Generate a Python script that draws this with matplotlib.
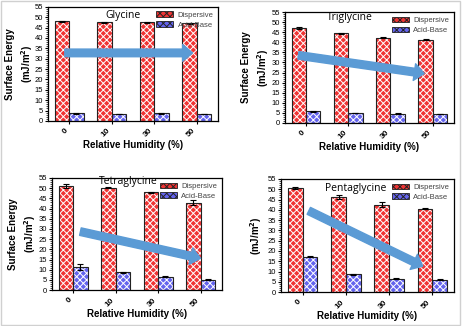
import numpy as np
import matplotlib
matplotlib.use('Agg')
import matplotlib.pyplot as plt
from matplotlib.ticker import MultipleLocator
from matplotlib.patches import Rectangle

plt.rcParams['font.family'] = ['Liberation Sans', 'DejaVu Sans']
plt.rcParams['hatch.linewidth'] = 0.7

humidity = ['0', '10', '30', '50']
names = ['Glycine', 'Triglycine', 'Tetraglycine', 'Pentaglycine']

disp = {
    'Glycine': [48.0, 47.5, 47.5, 47.0],
    'Triglycine': [47.0, 44.5, 42.2, 41.3],
    'Tetraglycine': [51.0, 50.3, 48.0, 42.8],
    'Pentaglycine': [50.5, 46.3, 42.5, 40.5],
}
disp_err = {
    'Glycine': [0.2, 0.2, 0.2, 0.2],
    'Triglycine': [0.4, 0.2, 0.2, 0.2],
    'Tetraglycine': [1.0, 0.3, 0.2, 1.2],
    'Pentaglycine': [0.6, 0.8, 1.2, 0.2],
}
acid = {
    'Glycine': [3.6, 3.3, 3.6, 3.3],
    'Triglycine': [5.8, 4.9, 4.6, 4.3],
    'Tetraglycine': [11.5, 8.8, 6.6, 5.2],
    'Pentaglycine': [17.3, 8.7, 6.5, 6.0],
}
acid_err = {
    'Glycine': [0.1, 0.1, 0.1, 0.1],
    'Triglycine': [0.3, 0.1, 0.1, 0.1],
    'Tetraglycine': [1.5, 0.2, 0.2, 0.3],
    'Pentaglycine': [0.3, 0.3, 0.2, 0.2],
}

# trend arrows (start x, start y, end x, end y) in data coords
arrows = {
    'Glycine': (-0.1, 32.8, 2.9, 32.8),
    'Triglycine': (-0.18, 33.5, 2.8, 24.5),
    'Tetraglycine': (0.17, 28.7, 3.0, 15.6),
    'Pentaglycine': (0.14, 39.5, 2.78, 12.6),
}

# axes boxes [left, bottom, width, height] in figure fraction
boxes = {
    'Glycine': [0.103, 0.629, 0.367, 0.350],
    'Triglycine': [0.614, 0.623, 0.364, 0.340],
    'Tetraglycine': [0.112, 0.110, 0.366, 0.344],
    'Pentaglycine': [0.606, 0.104, 0.372, 0.347],
}
title_pos = {
    'Glycine': (0.44, 0.92),
    'Triglycine': (0.385, 0.955),
    'Tetraglycine': (0.45, 0.965),
    'Pentaglycine': (0.43, 0.915),
}
# right edge of the y label, axes fraction
ylabel_x = {'Glycine': -0.075, 'Triglycine': -0.08, 'Tetraglycine': -0.085, 'Pentaglycine': -0.10}

red = '#f03434'
blue = '#6464ee'
w = 0.34

fig = plt.figure(figsize=(4.64, 3.26), dpi=100)
fig.patches.append(Rectangle((0.002, 0.003), 0.99, 0.994, transform=fig.transFigure,
                             fill=False, edgecolor='#d0d0d0', linewidth=1))

for name in names:
    ax = fig.add_axes(boxes[name])
    x = np.arange(len(humidity))
    # hatched fill, then dark outline on top
    ax.bar(x - w / 2, disp[name], w, color=red, edgecolor='white', hatch='xxxxx', linewidth=0)
    ax.bar(x + w / 2, acid[name], w, color=blue, edgecolor='white', hatch='xxxxx', linewidth=0)
    ax.bar(x - w / 2, disp[name], w, fill=False, edgecolor='#222222', linewidth=0.8,
           yerr=disp_err[name], error_kw=dict(ecolor='black', elinewidth=0.8, capsize=2.5, capthick=0.8))
    ax.bar(x + w / 2, acid[name], w, fill=False, edgecolor='#222222', linewidth=0.8,
           yerr=acid_err[name], error_kw=dict(ecolor='black', elinewidth=0.8, capsize=2.5, capthick=0.8))

    x0, y0, x1, y1 = arrows[name]
    ax.annotate('', xy=(x1, y1), xytext=(x0, y0),
                arrowprops=dict(arrowstyle='simple,head_length=0.65,head_width=1.1,tail_width=0.5',
                                mutation_scale=11, color='#5b9bd5', shrinkA=0, shrinkB=0))

    ax.set_xlim(-0.5, 3.5)
    ax.set_ylim(0, 55)
    ax.yaxis.set_major_locator(MultipleLocator(5))
    ax.yaxis.set_minor_locator(MultipleLocator(1))
    ax.tick_params(axis='y', labelsize=5.5, length=2.5, width=0.8, pad=1)
    ax.tick_params(axis='y', which='minor', length=1.2, width=0.5)
    ax.set_xticks(x)
    ax.set_xticklabels(humidity, rotation=45, ha='right', va='top', fontsize=6, fontweight='bold')
    ax.tick_params(axis='x', length=2.5, width=0.8, pad=2)
    for s in ax.spines.values():
        s.set_linewidth(0.9)

    ax.set_xlabel('Relative Humidity (%)', fontsize=7, fontweight='bold', labelpad=1)
    if name == 'Pentaglycine':
        ax.set_ylabel('(mJ/m$^\\mathbf{2}$)', fontsize=7, fontweight='bold')
    else:
        ax.set_ylabel('Surface Energy\n(mJ/m$^\\mathbf{2}$)', fontsize=7, fontweight='bold',
                      linespacing=1.35)
    ax.yaxis.set_label_coords(ylabel_x[name], 0.5)

    tx, ty = title_pos[name]
    ax.text(tx, ty, name, transform=ax.transAxes, ha='center', va='center',
            fontsize=7.5, family=['Open Sans', 'DejaVu Sans'])

    h1 = ax.bar([0], [0], 0, color=red, edgecolor='#222222', hatch='xxxxx', linewidth=0.6)
    h2 = ax.bar([0], [0], 0, color=blue, edgecolor='#222222', hatch='xxxxx', linewidth=0.6)
    leg = ax.legend([h1, h2], ['Dispersive', 'Acid-Base'], loc='upper right', frameon=False,
                    fontsize=5.5, handlelength=2.2, handleheight=0.8, handletextpad=0.6,
                    labelspacing=0.3, borderaxespad=0.2)
    for t in leg.get_texts():
        t.set_color('#444444')

fig.savefig('out.png', dpi=100)
